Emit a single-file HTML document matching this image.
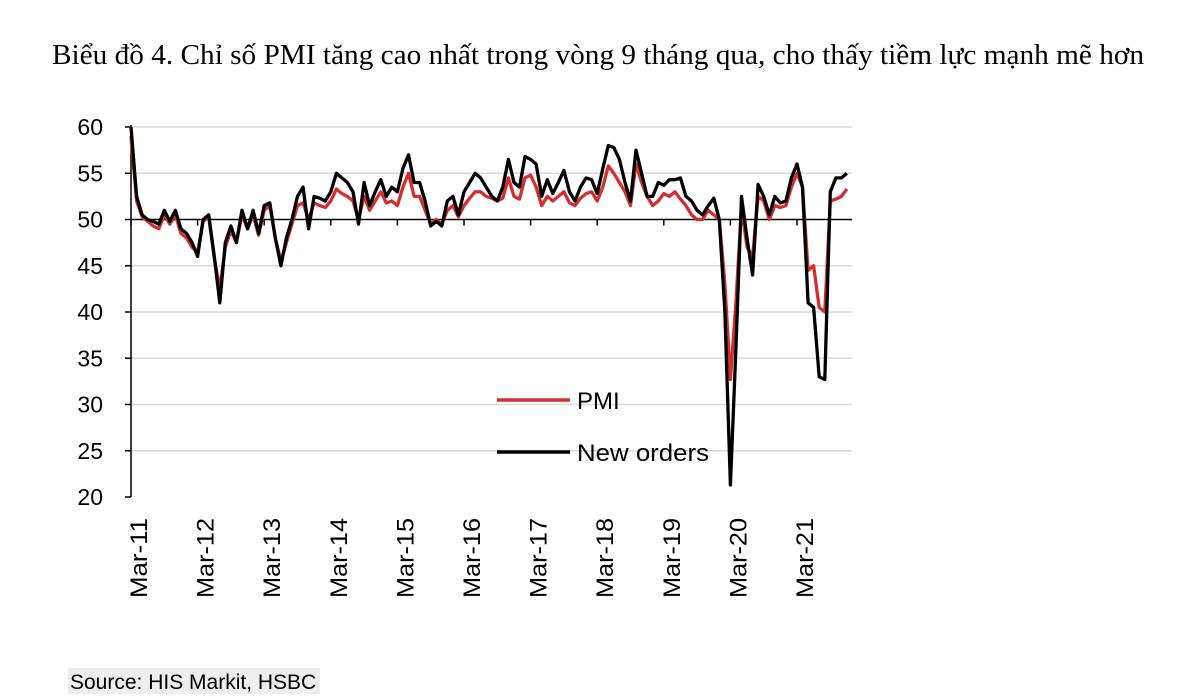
<!DOCTYPE html>
<html><head><meta charset="utf-8"><style>
html,body{margin:0;padding:0;background:#fff;width:1200px;height:697px;overflow:hidden}
svg{display:block}
</style></head><body>
<svg id="chart" width="1200" height="697" viewBox="0 0 1200 697">
<text x="598" y="64" text-anchor="middle" font-family="Liberation Serif, serif" font-size="29" fill="#000" textLength="1092" lengthAdjust="spacingAndGlyphs">Biểu đồ 4. Chỉ số PMI tăng cao nhất trong vòng 9 tháng qua, cho thấy tiềm lực mạnh mẽ hơn</text>
<g id="grid"></g>
<g id="axes"></g>
<g id="series"></g>
<g>
<line x1="497" y1="400" x2="570" y2="400" stroke="#d32f2f" stroke-width="3.5"/>
<text x="577" y="409" font-family="Liberation Sans, sans-serif" font-size="24" fill="#000">PMI</text>
<line x1="497" y1="452" x2="570" y2="452" stroke="#000" stroke-width="3.5"/>
<text x="577" y="461" font-family="Liberation Sans, sans-serif" font-size="24" fill="#000" textLength="132" lengthAdjust="spacingAndGlyphs">New orders</text>
</g>
<rect x="68" y="668" width="252" height="26" fill="#eeeeee"/>
<text x="70" y="689" font-family="Liberation Sans, sans-serif" font-size="21" fill="#000">Source: HIS Markit, HSBC</text>
</svg>
<script>
const yTicks=[20,25,30,35,40,45,50,55,60];
const xLabels=["Mar-11","Mar-12","Mar-13","Mar-14","Mar-15","Mar-16","Mar-17","Mar-18","Mar-19","Mar-20","Mar-21"];
const newOrders=[60,52.5,50.5,50,49.8,49.5,51,49.8,51,49,48.5,47.5,46,50,50.5,46,41,47.5,49.3,47.5,51,49,51,48.5,51.5,51.8,48,45,48,50,52.5,53.5,49,52.5,52.3,52,53,55,54.5,54,53,49.5,54,51.5,53,54.3,52.5,53.5,53,55.5,57,54,54,52,49.3,49.8,49.3,52,52.5,50.5,53,54,55,54.5,53.5,52.5,52,53.5,56.5,54,53.5,56.8,56.5,56,52.5,54.3,52.8,54,55.3,53,52,53.5,54.5,54.3,52.8,55.5,58,57.8,56.5,54,52,57.5,55,52.5,52.5,54,53.7,54.3,54.3,54.5,52.5,52,51,50.5,51.5,52.3,50,40,21.3,36,52.5,48,44,53.8,52.5,50.5,52.5,51.8,52,54.5,56,53.5,41,40.5,33,32.7,53,54.5,54.5,55];
const pmi=[59,52,50.3,49.8,49.3,49,50.5,49.5,50.5,48.5,48,47,46.5,49.8,50.3,45.8,42.5,47,48.8,47.5,50.5,49,50.5,48.3,51,51.5,48,45.5,47.5,49.5,51.5,51.8,50,51.8,51.5,51.3,52,53.3,52.8,52.5,52,50,52.5,51,52,53,51.8,52,51.5,53.5,55,52.5,52.5,51,49.5,50,49.5,51,51.5,50.3,51.5,52.3,53,53,52.5,52.3,52,52.3,54.5,52.5,52.2,54.5,54.8,53.5,51.5,52.5,52,52.5,53,51.8,51.5,52.3,52.8,53,52,53.5,55.8,55,54,53,51.5,56,54,52.5,51.5,52,52.8,52.5,53,52.2,51.5,50.5,50,50,51,50.5,50,43,32.7,41,51.3,47,46,52.5,52,50,51.5,51.3,51.5,53.5,55,53.5,44.5,45,40.5,40,52,52.2,52.5,53.3];
const NS="http://www.w3.org/2000/svg";
const x0=131, dx=5.55, yTop=127, yBot=497, vMin=20, vMax=60;
function xs(i){return x0+dx*i;}
function ys(v){return yBot-(v-vMin)/(vMax-vMin)*(yBot-yTop);}
function mk(tag,attrs,parent){const e=document.createElementNS(NS,tag);for(const k in attrs)e.setAttribute(k,attrs[k]);parent.appendChild(e);return e;}
const grid=document.getElementById('grid'),axes=document.getElementById('axes'),series=document.getElementById('series');
yTicks.forEach(v=>{
  if(v!==50&&v!==20){const g=mk('line',{x1:x0,x2:852,y1:ys(v),y2:ys(v),stroke:'#d9d9d9','stroke-width':1.5},grid);
  
  }
  const t=mk('line',{x1:x0-6,x2:x0,y1:ys(v),y2:ys(v),stroke:'#000','stroke-width':1.5},axes);
  
  
  const l=mk('text',{x:103,y:ys(v)+8,'text-anchor':'end','font-family':'Liberation Sans, sans-serif','font-size':23,fill:'#000'},axes);
  l.textContent=v;
  
  
});
const ya=mk('line',{x1:x0,x2:x0,y1:yTop-2,y2:yBot,stroke:'#000','stroke-width':1.5},axes);


const base=mk('line',{x1:x0,x2:852,y1:ys(50),y2:ys(50),stroke:'#000','stroke-width':1.5},axes);


xLabels.forEach((s,k)=>{
  const xi=xs(k*12);
  const t=mk('line',{x1:xi,x2:xi,y1:ys(50),y2:ys(50)+6,stroke:'#000','stroke-width':1.5},axes);
  
  
  const l=mk('text',{x:0,y:0,'text-anchor':'end','font-family':'Liberation Sans, sans-serif','font-size':24,fill:'#000',textLength:80,lengthAdjust:'spacingAndGlyphs',transform:`translate(${xi+16},518) rotate(-90)`},axes);
  l.textContent=s;
  
  
});
function line(arr,color,name){
  const d=arr.map((v,i)=>(i?'L':'M')+xs(i).toFixed(1)+' '+ys(v).toFixed(1)).join(' ');
  const p=mk('path',{d:d,fill:'none',stroke:color,'stroke-width':3.3,'stroke-linejoin':'round'},series);
  
  
}
line(pmi,'#d32f2f','pmi-line');
line(newOrders,'#000','new-orders-line');
</script>
</body></html>
